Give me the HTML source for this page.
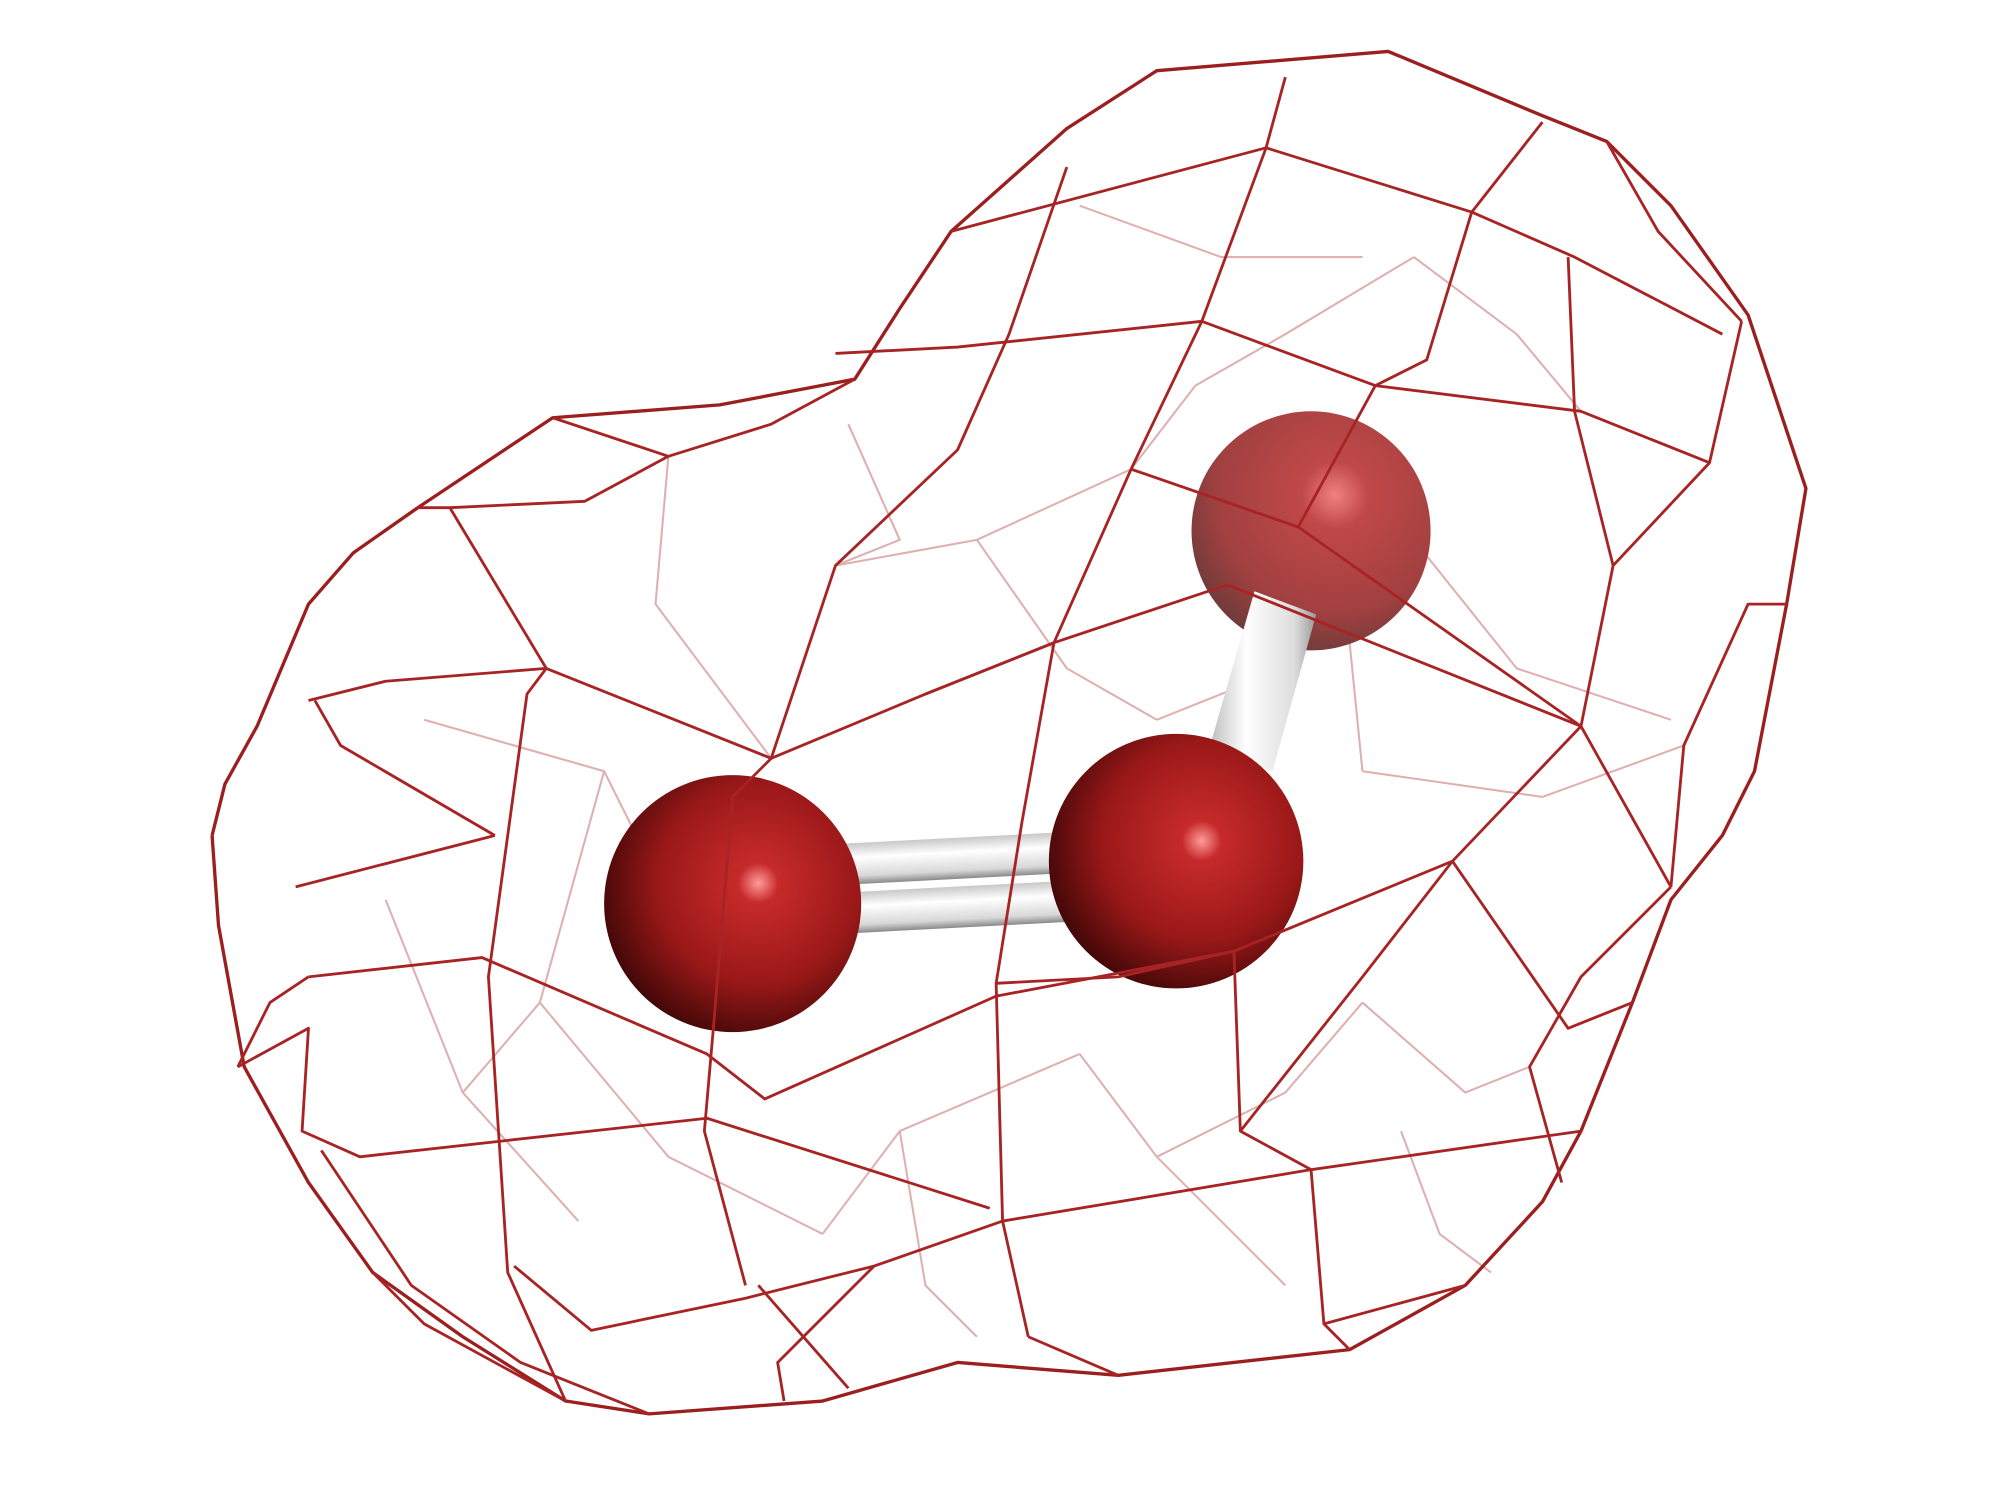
<!DOCTYPE html>
<html><head><meta charset="utf-8"><style>html,body{margin:0;padding:0;background:#fff;width:2000px;height:1500px;overflow:hidden}</style></head>
<body>
<svg id="mol" width="2000" height="1500" viewBox="0 0 1556 1167" xmlns="http://www.w3.org/2000/svg">
<defs>
<radialGradient id="gFront" cx="0.6" cy="0.42" r="0.65"><stop offset="0" stop-color="#ff9a9a"/><stop offset="0.12" stop-color="#c62a2a"/><stop offset="0.6" stop-color="#9a1818"/><stop offset="1" stop-color="#3a0606"/></radialGradient>
<radialGradient id="gBack" cx="0.6" cy="0.35" r="0.7"><stop offset="0" stop-color="#f08080"/><stop offset="0.2" stop-color="#c04848"/><stop offset="0.7" stop-color="#a24040"/><stop offset="1" stop-color="#6a3a3a"/></radialGradient>
<linearGradient id="gBond" x1="0" y1="0" x2="0" y2="1"><stop offset="0" stop-color="#c8c8c8"/><stop offset="0.35" stop-color="#ffffff"/><stop offset="0.8" stop-color="#d8d8d8"/><stop offset="1" stop-color="#888"/></linearGradient>
<linearGradient id="gBond2" x1="0" y1="0" x2="1" y2="0"><stop offset="0" stop-color="#bbb"/><stop offset="0.35" stop-color="#fff"/><stop offset="0.8" stop-color="#ddd"/><stop offset="1" stop-color="#999"/></linearGradient>
</defs>
<g id="back"></g>
<g id="atoms">
<circle cx="1020" cy="413" r="93" fill="url(#gBack)"/>
<polygon points="976,460 1024,478 990,600 940,585" fill="url(#gBond2)"/>
<rect x="640" y="652" width="200" height="32" fill="url(#gBond)" transform="rotate(-3 740 668)"/>
<rect x="640" y="690" width="200" height="32" fill="url(#gBond)" transform="rotate(-3 740 706)"/>
<circle cx="570" cy="703" r="100" fill="url(#gFront)"/>
<circle cx="915" cy="670" r="99" fill="url(#gFront)"/>
</g>
<g id="front"></g>
</svg>
<script>
const outline=[[165,650],[175,610],[200,565],[240,470],[275,430],[325,395],[430,325],[560,315],[665,295],[700,240],[740,180],[830,100],[900,55],[1080,40],[1200,90],[1250,110],[1300,160],[1360,245],[1385,320],[1405,380],[1390,470],[1365,600],[1340,650],[1300,700],[1270,780],[1230,880],[1200,935],[1140,1000],[1050,1050],[870,1070],[745,1060],[640,1090],[505,1100],[440,1090],[360,1040],[290,990],[240,920],[190,830],[170,720],[165,650]];
const frontPaths=[
[[350,395],[425,520],[410,540],[395,650],[380,760],[395,990],[440,1090]],
[[240,545],[300,530],[425,520],[600,590],[720,540],[820,500],[955,455],[1230,565],[1300,690]],
[[650,275],[745,270],[935,250],[1070,300],[1230,320],[1330,360]],
[[600,590],[650,440],[745,350],[785,260],[830,130]],
[[935,250],[985,115],[1000,60]],
[[1070,300],[1110,280],[1145,165],[1200,95]],
[[720,540],[820,500],[880,365],[935,250]],
[[880,365],[1010,410],[1070,300]],
[[1010,410],[1230,565]],
[[1230,565],[1255,440],[1330,360],[1355,250]],
[[1255,440],[1225,320],[1220,200]],
[[740,180],[985,115],[1145,165],[1225,200],[1340,260]],
[[820,500],[795,640],[775,765],[780,950],[800,1040]],
[[600,590],[570,620],[555,800],[548,880],[580,1000]],
[[245,545],[265,580],[385,650]],
[[230,690],[385,650]],
[[240,760],[375,745],[550,820],[595,855],[775,775],[960,740]],
[[185,830],[240,800],[235,880],[280,900],[550,870],[770,940]],
[[250,895],[320,1000],[405,1060],[505,1100]],
[[400,985],[460,1035],[580,1010],[680,985],[780,950]],
[[680,985],[605,1060],[610,1090]],
[[780,950],[1020,910],[1230,880]],
[[1020,910],[1030,1030],[1050,1050]],
[[960,740],[965,880],[1020,910]],
[[1130,670],[1220,800],[1270,780]],
[[1300,690],[1230,760],[1190,830],[1215,920]],
[[960,740],[1130,670],[1230,565]],
[[1300,690],[1310,580],[1360,470],[1390,470]],
[[590,1000],[660,1080]],
[[430,325],[520,355],[600,330],[665,295]],
[[325,395],[350,395],[455,390],[520,355]],
[[800,1040],[870,1070]],[[1030,1030],[1140,1000]],
[[1130,670],[1060,760],[965,880]],[[775,765],[870,760],[960,740]],
[[185,830],[210,780],[240,760]],[[290,990],[330,1030],[440,1090]],
[[1250,110],[1290,180],[1355,250]]
];
const backPaths=[
[[520,355],[510,470],[600,590]],[[650,440],[760,420],[880,365]],[[760,420],[830,520],[900,560]],
[[1100,420],[1180,520],[1300,560]],[[1060,600],[1200,620],[1310,580]],[[840,820],[900,900],[1000,1000]],
[[420,780],[520,900],[640,960]],[[330,560],[470,600],[520,700]],[[1060,780],[1140,850],[1190,830]],
[[1100,200],[1180,260],[1230,320]],[[840,160],[950,200],[1060,200]],[[300,700],[360,850],[450,950]],
[[700,880],[720,1000],[760,1040]],[[1090,880],[1120,960],[1160,990]],
[[660,330],[700,420],[650,440]],[[880,365],[930,300],[1000,260],[1100,200]],
[[1010,410],[1050,500],[1060,600]],[[470,600],[420,780]],[[900,560],[1000,520],[1100,420]],
[[900,900],[1000,850],[1060,780]],[[640,960],[700,880],[840,820]],[[360,850],[420,780]]
];
const NS='http://www.w3.org/2000/svg';
function draw(g,pts,stroke,w){const p=document.createElementNS(NS,'polyline');


p.setAttribute('points',pts.map(q=>q.join(',')).join(' '));p.setAttribute('fill','none');p.setAttribute('stroke',stroke);p.setAttribute('stroke-width',w);p.setAttribute('stroke-linejoin','round');g.appendChild(p);}
const back=document.getElementById('back'),front=document.getElementById('front');
backPaths.forEach(p=>draw(back,p,'#deb0b0',1.6));
draw(front,outline,'#9c1f1f',2.6);
frontPaths.forEach(p=>draw(front,p,'#a82424',2.2));
</script>
</body></html>
